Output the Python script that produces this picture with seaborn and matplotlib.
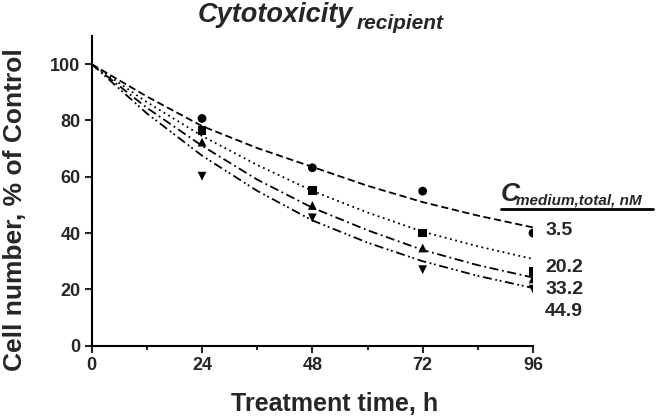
import matplotlib
matplotlib.use("Agg")
import matplotlib.pyplot as plt
import seaborn as sns
import pandas as pd
from matplotlib.lines import Line2D
from matplotlib.ticker import MultipleLocator

# ---- data ----
concentrations = ["3.5", "20.2", "33.2", "44.9"]
time_points = [24, 48, 72, 96]
obs_3_5 = [80.7, 63.2, 54.9, 40.0]
obs_20_2 = [76.3, 55.2, 40.0, 26.4]
obs_33_2 = [72.3, 49.8, 34.7, 23.7]
obs_44_9 = [60.2, 45.4, 27.0, 20.1]

fit_time = [0, 12, 24, 36, 48, 60, 72, 84, 96]
fit_3_5 = [100, 88.5, 78.0, 70.2, 63.5, 56.8, 51.0, 46.2, 42.0]
fit_20_2 = [100, 86.5, 74.5, 64.2, 55.0, 47.3, 40.5, 35.3, 30.8]
fit_33_2 = [100, 84.5, 71.0, 59.0, 49.0, 41.0, 34.0, 28.6, 24.2]
fit_44_9 = [100, 82.5, 67.5, 55.0, 44.5, 36.6, 30.0, 24.8, 20.5]

x_ticks = [0, 24, 48, 72, 96]
y_ticks = [0, 20, 40, 60, 80, 100]

obs = {"3.5": obs_3_5, "20.2": obs_20_2, "33.2": obs_33_2, "44.9": obs_44_9}
fits = {"3.5": fit_3_5, "20.2": fit_20_2, "33.2": fit_33_2, "44.9": fit_44_9}

obs_df = pd.DataFrame([
    {"time": t, "value": v, "conc": c}
    for c in concentrations for t, v in zip(time_points, obs[c])
])
fit_df = pd.DataFrame([
    {"time": t, "value": v, "conc": c}
    for c in concentrations for t, v in zip(fit_time, fits[c])
])

# ---- style ----
sns.set_style("ticks")
plt.rcParams["font.family"] = ["Liberation Sans", "DejaVu Sans"]
plt.rcParams["font.weight"] = "bold"

fig = plt.figure(figsize=(6.56, 4.16), dpi=100)
ax = fig.add_axes([0.1398, 0.169, 0.6727, 0.7445])

dash_map = {"3.5": (4, 2), "20.2": (1, 2), "33.2": (5, 2, 1, 2), "44.9": (5, 2, 1, 1.5, 1, 2)}
marker_map = {"3.5": "o", "20.2": "s", "33.2": "^", "44.9": "v"}

sns.lineplot(data=fit_df, x="time", y="value", style="conc", dashes=dash_map,
             color="black", linewidth=1.3, ax=ax, legend=False)
sns.scatterplot(data=obs_df, x="time", y="value", style="conc", markers=marker_map,
                color="black", s=40, edgecolor="black", linewidth=0, ax=ax, legend=False)

ax.set_xlim(0, 96)
ax.set_ylim(0, 110)
ax.set_xticks(x_ticks)
ax.set_yticks(y_ticks)
ax.xaxis.set_minor_locator(MultipleLocator(12))
ax.tick_params(axis="both", which="major", direction="out", length=5, width=1.5,
               labelsize=13, pad=3)
ax.tick_params(axis="x", which="minor", direction="out", length=3, width=1.5)
for lab in ax.get_xticklabels() + ax.get_yticklabels():
    lab.set_fontweight("bold")
for s in ["left", "bottom"]:
    ax.spines[s].set_linewidth(1.5)
    ax.spines[s].set_color("black")
for s in ["top", "right"]:
    ax.spines[s].set_visible(False)
ax.spines["bottom"].set_bounds(0, 96)

ax.set_xlabel("Treatment time, h", fontsize=18, fontweight="bold")
ax.set_ylabel("Cell number, % of Control", fontsize=19, fontweight="bold")
ax.xaxis.set_label_coords(0.551, -0.150)
ax.yaxis.set_label_coords(-0.146, 0.439)

# title with subscript
fig.text(0.302, 0.946, "Cytotoxicity", fontsize=19.5, fontweight="bold",
         fontstyle="italic", ha="left", va="baseline")
fig.text(0.543, 0.930, "recipient", fontsize=15, fontweight="bold",
         fontstyle="italic", ha="left", va="baseline")

# legend-like annotation
fig.text(0.763, 0.517, "C", fontsize=19, fontweight="bold", fontstyle="italic",
         ha="left", va="baseline")
fig.text(0.787, 0.508, "medium,total, nM", fontsize=11, fontweight="bold",
         fontstyle="italic", ha="left", va="baseline")
fig.add_artist(Line2D([0.763, 0.995], [0.498, 0.498], transform=fig.transFigure,
                      color="black", linewidth=2))

label_y = [0.447, 0.356, 0.303, 0.250]
for c, yy in zip(concentrations, label_y):
    fig.text(0.831, yy, c, fontsize=14, fontweight="bold", ha="left", va="center")

fig.savefig("out.png", dpi=100)
